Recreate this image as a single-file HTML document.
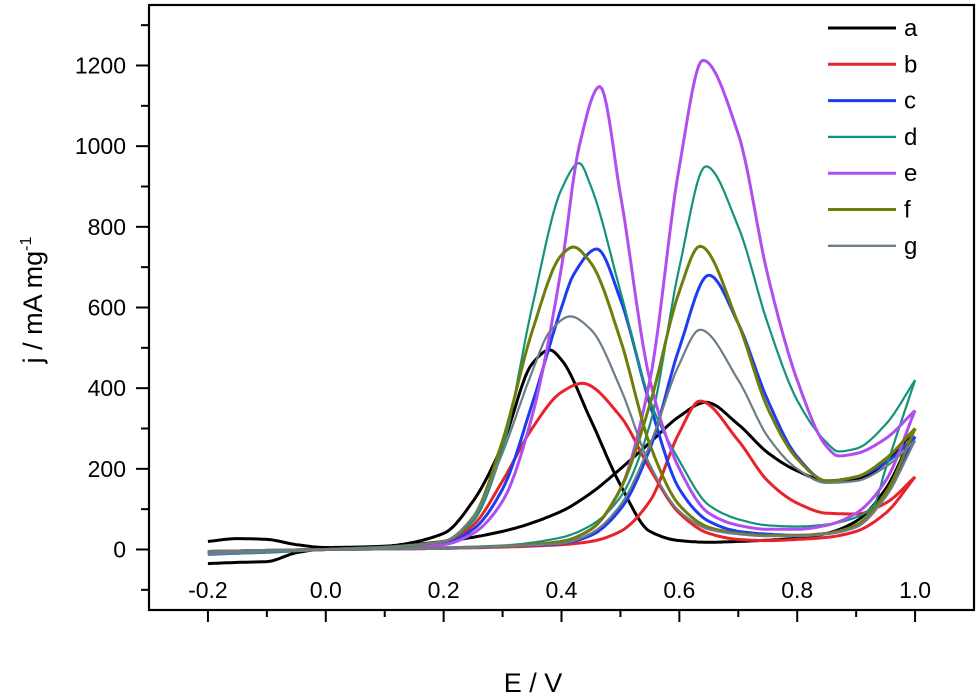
<!DOCTYPE html>
<html><head><meta charset="utf-8">
<style>
html,body{margin:0;padding:0;background:#fff;}
svg{display:block;font-family:"Liberation Sans",Arial,sans-serif;}
</style></head>
<body>
<svg id="chart" width="979" height="699" viewBox="0 0 979 699" xmlns="http://www.w3.org/2000/svg">
<g id="plot"></g>
</svg>
<script>
const seriesNames = ["a","b","c","d","e","f","g"];
const seriesColors = ["#000000","#e8232a","#1e3cf0","#14937a","#b04ef0","#6f7d0a","#6b7d88"];
const xTicks = [-0.2,0.0,0.2,0.4,0.6,0.8,1.0];
const xTickLabels = ["-0.2","0.0","0.2","0.4","0.6","0.8","1.0"];
const yTicks = [0,200,400,600,800,1000,1200];
const yTickLabels = ["0","200","400","600","800","1000","1200"];

const fwdA = [[-0.2,20],[-0.15,27],[-0.1,25],[-0.05,12],[0,5],[0.1,8],[0.2,20],[0.3,45],[0.4,95],[0.45,140],[0.5,200],[0.55,265],[0.6,330],[0.645,365],[0.7,310],[0.75,240],[0.8,195],[0.85,170],[0.9,175],[0.95,215],[1.0,300]];
const bwdA = [[1.0,300],[0.95,150],[0.9,70],[0.85,40],[0.8,28],[0.7,20],[0.65,18],[0.6,22],[0.55,45],[0.5,160],[0.45,320],[0.4,470],[0.38,495],[0.35,460],[0.3,260],[0.25,120],[0.2,40],[0.1,8],[0,2],[-0.05,-8],[-0.1,-30],[-0.15,-32],[-0.2,-35]];
const fwdB = [[-0.2,-5],[0,0],[0.2,3],[0.3,6],[0.4,12],[0.45,20],[0.5,45],[0.55,120],[0.6,290],[0.635,368],[0.7,270],[0.75,170],[0.8,115],[0.85,90],[0.9,88],[0.95,115],[1.0,180]];
const bwdB = [[1.0,180],[0.95,90],[0.9,45],[0.85,30],[0.8,25],[0.75,22],[0.7,25],[0.65,40],[0.6,90],[0.55,200],[0.5,330],[0.435,412],[0.4,390],[0.35,300],[0.3,170],[0.25,60],[0.2,15],[0,0],[-0.2,-10]];
const fwdC = [[-0.2,-5],[0,0],[0.2,3],[0.3,8],[0.4,15],[0.45,35],[0.5,100],[0.55,250],[0.6,500],[0.65,680],[0.7,560],[0.75,370],[0.8,230],[0.85,170],[0.9,180],[0.95,215],[1.0,280]];
const bwdC = [[1.0,280],[0.95,140],[0.9,60],[0.85,40],[0.8,35],[0.75,38],[0.7,45],[0.65,70],[0.6,150],[0.55,360],[0.5,620],[0.46,745],[0.42,680],[0.4,600],[0.35,360],[0.3,150],[0.25,50],[0.2,15],[0,0],[-0.2,-12]];
const fwdD = [[-0.2,-5],[0,0],[0.2,5],[0.3,10],[0.4,30],[0.45,60],[0.5,130],[0.55,310],[0.6,700],[0.645,950],[0.7,800],[0.75,560],[0.8,370],[0.85,265],[0.87,243],[0.9,250],[0.95,310],[1.0,420]];
const bwdD = [[1.0,420],[0.95,200],[0.93,110],[0.9,80],[0.85,62],[0.8,57],[0.75,60],[0.7,75],[0.65,110],[0.6,220],[0.55,370],[0.5,640],[0.45,900],[0.43,958],[0.4,893],[0.35,600],[0.3,250],[0.25,70],[0.2,20],[0.1,3],[0,0],[-0.1,-8],[-0.2,-12]];
const fwdE = [[-0.2,-5],[0,0],[0.2,3],[0.3,8],[0.4,20],[0.45,50],[0.5,150],[0.55,420],[0.6,950],[0.64,1213],[0.7,1030],[0.75,680],[0.8,420],[0.85,255],[0.87,232],[0.9,238],[0.95,275],[1.0,345]];
const bwdE = [[1.0,345],[0.95,170],[0.9,90],[0.85,60],[0.8,50],[0.75,50],[0.7,60],[0.65,90],[0.6,200],[0.55,420],[0.5,880],[0.465,1148],[0.43,1000],[0.4,700],[0.35,330],[0.3,120],[0.25,40],[0.2,12],[0.1,3],[0,0],[-0.2,-10]];
const fwdF = [[-0.2,-5],[0,0],[0.2,4],[0.3,8],[0.4,20],[0.45,50],[0.5,150],[0.55,360],[0.6,640],[0.635,752],[0.7,560],[0.75,350],[0.8,225],[0.85,170],[0.9,180],[0.95,225],[1.0,300]];
const bwdF = [[1.0,300],[0.95,140],[0.9,60],[0.85,40],[0.8,35],[0.75,35],[0.7,40],[0.65,55],[0.6,110],[0.55,260],[0.5,520],[0.45,710],[0.42,750],[0.4,730],[0.35,540],[0.3,270],[0.25,80],[0.2,20],[0,0],[-0.2,-8]];
const fwdG = [[-0.2,-5],[0,0],[0.2,4],[0.3,8],[0.4,15],[0.45,40],[0.5,110],[0.55,260],[0.6,460],[0.635,545],[0.7,420],[0.75,280],[0.8,200],[0.85,165],[0.9,170],[0.95,205],[1.0,270]];
const bwdG = [[1.0,270],[0.95,130],[0.9,55],[0.85,38],[0.8,33],[0.75,33],[0.7,38],[0.65,50],[0.6,95],[0.55,210],[0.5,400],[0.45,545],[0.415,578],[0.38,540],[0.35,440],[0.3,240],[0.25,80],[0.2,20],[0,0],[-0.2,-10]];

const fwdAll = [fwdA,fwdB,fwdC,fwdD,fwdE,fwdF,fwdG];
const bwdAll = [bwdA,bwdB,bwdC,bwdD,bwdE,bwdF,bwdG];

const L=149,R=974,T=5,B=610, X0=-0.3,X1=1.1, Y0=-150,Y1=1350;
function sx(v){return L+(v-X0)/(X1-X0)*(R-L);}
function sy(v){return B-(v-Y0)/(Y1-Y0)*(B-T);}
const NS="http://www.w3.org/2000/svg";
const plot=document.getElementById('plot');
function mk(tag,attrs,parent){const e=document.createElementNS(NS,tag);for(const k in attrs)e.setAttribute(k,attrs[k]);(parent||plot).appendChild(e);return e;}

// monotone cubic interpolation (Fritsch-Carlson) along E
function smoothPath(ptsIn){
  const reversed = ptsIn[0][0] > ptsIn[ptsIn.length-1][0];
  const pts = reversed ? ptsIn.slice().reverse() : ptsIn.slice();
  const n=pts.length, xs=pts.map(p=>p[0]), ys=pts.map(p=>p[1]);
  const d=[],m=new Array(n);
  for(let i=0;i<n-1;i++) d.push((ys[i+1]-ys[i])/(xs[i+1]-xs[i]));
  m[0]=d[0]; m[n-1]=d[n-2];
  for(let i=1;i<n-1;i++){
    if(d[i-1]*d[i]<=0) m[i]=0;
    else{const h0=xs[i]-xs[i-1],h1=xs[i+1]-xs[i];const w1=2*h1+h0,w2=h1+2*h0;m[i]=(w1+w2)/(w1/d[i-1]+w2/d[i]);}
  }
  const out=[];
  for(let i=0;i<n-1;i++){
    const h=xs[i+1]-xs[i];const steps=Math.max(4,Math.ceil(h/0.004));
    for(let k=0;k<steps;k++){
      const t=k/steps,t2=t*t,t3=t2*t;
      const y=(2*t3-3*t2+1)*ys[i]+(t3-2*t2+t)*h*m[i]+(-2*t3+3*t2)*ys[i+1]+(t3-t2)*h*m[i+1];
      out.push([xs[i]+t*h,y]);
    }
  }
  out.push([xs[n-1],ys[n-1]]);
  return "M"+out.map(p=>sx(p[0]).toFixed(1)+","+sy(p[1]).toFixed(1)).join("L");
}

for(let i=0;i<seriesNames.length;i++){
  const g=mk('g',{});
  
  
  const sw=(i===3||i===6)?2.2:3;
  const f=mk('path',{d:smoothPath(fwdAll[i]),fill:'none',stroke:seriesColors[i],'stroke-width':sw,'stroke-linejoin':'round'},g);
  
  
  const b=mk('path',{d:smoothPath(bwdAll[i]),fill:'none',stroke:seriesColors[i],'stroke-width':sw,'stroke-linejoin':'round'},g);
  
  
}

const fr=mk('rect',{x:L,y:T,width:R-L,height:B-T,fill:'none',stroke:'#000','stroke-width':2.2});



for(let r=-2;r<=10;r++){
  const x=sx(r/10);const major=(r%2===0);
  const t=mk('line',{x1:x,x2:x,y1:B,y2:B+(major?12:7),stroke:'#000','stroke-width':2});
  
  
}
xTicks.forEach((v,i)=>{
  const t=mk('text',{x:sx(v),y:598,'text-anchor':'middle','font-size':23,fill:'#000'});
  t.textContent=xTickLabels[i];
  
  
});
for(let v=-100;v<=1300;v+=100){
  const y=sy(v);const major=v%200===0;
  const t=mk('line',{x1:L-(major?13:8),x2:L,y1:y,y2:y,stroke:'#000','stroke-width':2});
  
  
}
yTicks.forEach((v,i)=>{
  const t=mk('text',{x:126,y:sy(v)+8,'text-anchor':'end','font-size':23,fill:'#000'});
  t.textContent=yTickLabels[i];
  
  
});
const xt=mk('text',{x:533,y:692,'text-anchor':'middle','font-size':27,fill:'#000'});
xt.textContent='E / V';


const yt=mk('text',{x:0,y:0,'text-anchor':'middle','font-size':27,fill:'#000',transform:'translate(42,300) rotate(-90)'});


yt.innerHTML='j / mA mg<tspan dy="-11" font-size="16">-1</tspan>';

const lg=mk('g',{});


seriesNames.forEach((n,i)=>{
  const y=28+i*36.3;
  const e=mk('g',{},lg);
  
  
  mk('line',{x1:828,x2:896,y1:y,y2:y,stroke:seriesColors[i],'stroke-width':(i===3||i===6)?2.4:3},e);
  const t=mk('text',{x:904,y:y+8,'font-size':24,fill:'#000'},e);
  t.textContent=n;
});
</script>
</body></html>
